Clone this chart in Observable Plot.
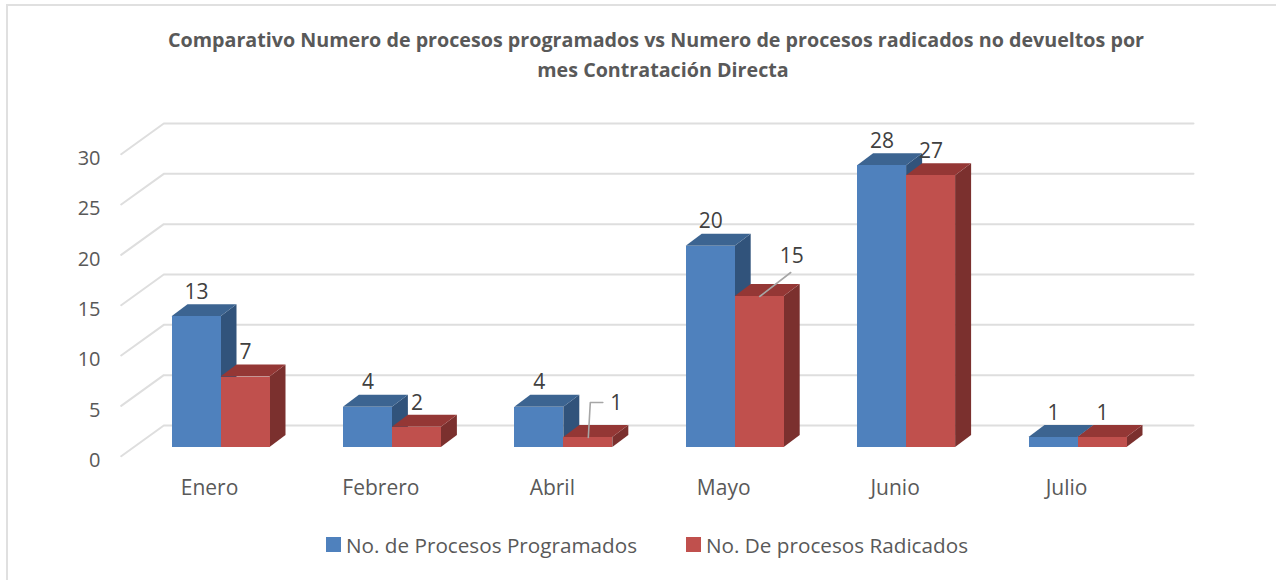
<!DOCTYPE html>
<html><head><meta charset="utf-8">
<script src="https://cdn.jsdelivr.net/npm/d3@7"></script>
<script src="https://cdn.jsdelivr.net/npm/@observablehq/plot@0.6"></script>
<style>
html,body{margin:0;padding:0;background:#fff;}
#chart{position:relative;width:1276px;height:580px;overflow:hidden;font-family:"Open Sans",sans-serif;}
#chart svg.main{position:absolute;left:0;top:0;}
#border{position:absolute;left:6px;top:4px;width:1270px;height:576px;border-left:2px solid #e0e0e0;border-top:2px solid #e0e0e0;box-sizing:border-box;}
#title{position:absolute;left:0;width:1312px;top:25px;text-align:center;font-weight:700;font-size:19.7px;line-height:30px;color:#595959;white-space:pre;}
#title div+div{position:relative;left:7px;}
#legend{position:absolute;left:326px;top:528px;}
#legend .lg-swatch{margin-right:49px !important;}
#legend .lg-swatch > svg{margin-right:5px !important;}
</style></head><body>
<div id="chart"><div id="border"></div><div id="title"></div><div id="legend"></div></div>
<script>
const titleLines = ["Comparativo Numero de procesos programados vs Numero de procesos radicados no devueltos por", "mes Contratación Directa"];
const months = ["Enero", "Febrero", "Abril", "Mayo", "Junio", "Julio"];
const programados = [13, 4, 4, 20, 28, 1];
const radicados = [7, 2, 1, 15, 27, 1];
const seriesNames = ["No. de Procesos Programados", "No. De procesos Radicados"];
const yTicks = [0, 5, 10, 15, 20, 25, 30];

const W = 1276, H = 580;
const uX = 1 / 171.4, uY = 30 / 302;       // one pixel, in data units
const barW = 49 * uX, barStart = -37.5 * uX;
const depX = 16 * uX, depY = 12 * uY;

function faces(values, seriesIndex) {
  const rows = values.map((v, i) => {
    const x1 = i + barStart + seriesIndex * barW, x2 = x1 + barW;
    return {i, v, x1, x2};
  });
  const top = rows.flatMap(r => [
    {z: r.i, x1: r.x1, y1: r.v, x2: r.x1 + depX, y2: r.v + depY},
    {z: r.i, x1: r.x2, y1: r.v, x2: r.x2 + depX, y2: r.v + depY}]);
  const side = rows.flatMap(r => [
    {z: r.i, x1: r.x2, y1: 0, x2: r.x2 + depX, y2: depY},
    {z: r.i, x1: r.x2, y1: r.v, x2: r.x2 + depX, y2: r.v + depY}]);
  return {rows, top, side};
}
const A = faces(programados, 0), B = faces(radicados, 1);
const colors = {
  blue: {front: "#4f81bd", top: "#3c6491", side: "#31537b"},
  red: {front: "#c0504d", top: "#943735", side: "#7b302e"}
};
function area(d, fill) { return Plot.area(d, {x1: "x1", y1: "y1", x2: "x2", y2: "y2", z: "z", fill}); }

const wallX = -45.7 * uX, floorX = -88.3 * uX, endX = 984 * uX;
const wallDy = 22 * uY, floorDy = -8.7 * uY;
const grid = yTicks.flatMap(t => [
  {t, x: floorX, y: t + floorDy},
  {t, x: wallX, y: t + wallDy},
  {t, x: endX, y: t + wallDy}]);

const barLabels = [...A.rows, ...B.rows].map((r, k) => ({...r, k, cx: (r.x1 + r.x2) / 2}));
const ABRIL_R = 8, MAYO_R = 9;
const inPlace = barLabels.filter(d => d.k !== ABRIL_R && d.k !== MAYO_R);
// leader lines, from the top of the bar to the displaced label
const leaders = [
  {z: ABRIL_R, x: B.rows[2].x1 + 24.5 * uX, y: 1},
  {z: ABRIL_R, x: B.rows[2].x1 + 26.5 * uX, y: 1 + 35 * uY},
  {z: ABRIL_R, x: B.rows[2].x1 + 39 * uX, y: 1 + 35 * uY},
  {z: MAYO_R, x: B.rows[3].x1 + 24.5 * uX, y: 15},
  {z: MAYO_R, x: B.rows[3].x1 + 55.5 * uX, y: 15 + 24 * uY}
];
const label = (d, o) => Plot.text(d, {x: "cx", y: "v", text: r => String(r.v), fontSize: 21, fill: "#404040", ...o});

const plot = Plot.plot({
  width: W, height: H,
  marginLeft: 209, marginRight: 210, marginTop: 145, marginBottom: 133,
  x: {type: "linear", domain: [0, 5]},
  y: {type: "linear", domain: [0, 30]},
  style: {background: "transparent", fontFamily: '"Open Sans", sans-serif'},
  marks: [
    Plot.line(grid, {x: "x", y: "y", z: "t", stroke: "#dedede", strokeWidth: 2}),
    Plot.axisY({ticks: yTicks, tickSize: 0, tickPadding: 109, dy: 13, label: null, fontSize: 20, fill: "#595959"}),
    Plot.axisX({ticks: d3.range(months.length), tickFormat: i => months[i], tickSize: 0, tickPadding: 33, label: null, fontSize: 21, fill: "#595959"}),
    area(A.side, colors.blue.side), area(A.top, colors.blue.top),
    Plot.rect(A.rows, {x1: "x1", x2: "x2", y1: 0, y2: "v", fill: colors.blue.front, shapeRendering: "crispEdges"}),
    area(B.side, colors.red.side), area(B.top, colors.red.top),
    Plot.rect(B.rows, {x1: "x1", x2: "x2", y1: 0, y2: "v", fill: colors.red.front, shapeRendering: "crispEdges"}),
    Plot.line(leaders, {x: "x", y: "y", z: "z", stroke: "#a6a6a6", strokeWidth: 1.6}),
    label(inPlace, {dy: -24.5}),
    label(barLabels.filter(d => d.k === ABRIL_R), {dx: 28, dy: -34.5}),
    label(barLabels.filter(d => d.k === MAYO_R), {dx: 32, dy: -40.5})
  ]
});
plot.classList.add("main");
document.getElementById("chart").appendChild(plot);
const titleEl = document.getElementById("title");
titleLines.forEach(t => { const d = document.createElement("div"); d.textContent = t; titleEl.appendChild(d); });

const legend = Plot.legend({
  color: {type: "ordinal", domain: seriesNames, range: [colors.blue.front, colors.red.front]},
  swatchSize: 15, className: "lg",
  style: {fontFamily: '"Open Sans", sans-serif', fontSize: "20.7px", color: "#595959"}
});
document.getElementById("legend").appendChild(legend);
</script></body></html>
